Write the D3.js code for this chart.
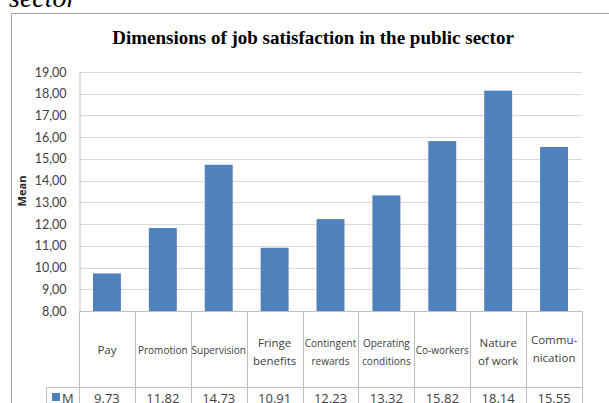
<!DOCTYPE html>
<html>
<head>
<meta charset="utf-8">
<script src="https://cdn.jsdelivr.net/npm/d3@7"></script>
<style>
  body { margin: 0; background: #fff; }
  svg { display: block; }
</style>
</head>
<body>
<div id="chart"></div>
<script>
// data
var categories = ["Pay", "Promotion", "Supervision", "Fringe benefits", "Contingent rewards",
                  "Operating conditions", "Co-workers", "Nature of work", "Commu-nication"];
// how each category label wraps in the table
var labelLines = [["Pay"], ["Promotion"], ["Supervision"], ["Fringe", "benefits"],
                  ["Contingent", "rewards"], ["Operating", "conditions"], ["Co-workers"],
                  ["Nature", "of work"], ["Commu-", "nication"]];
var smallLabels = ["Promotion", "Supervision", "Contingent rewards", "Operating conditions", "Co-workers"];
var means = [9.73, 11.82, 14.73, 10.91, 12.23, 13.32, 15.82, 18.14, 15.55];
var yTicks = [8, 9, 10, 11, 12, 13, 14, 15, 16, 17, 18, 19];
var seriesName = "M";

var width = 609, height = 403;
var plot = {left: 79, right: 582, top: 72, bottom: 311};
var tableMid = 387;

var svg = d3.select("#chart").append("svg")
  .attr("width", width).attr("height", height);

// caption fragment from the page above the chart
svg.append("text")
  .attr("x", 9).attr("y", 7)
  .style("font-family", "'Liberation Serif', serif")
  .style("font-style", "italic")
  .style("font-size", "28px")
  .text("sector");

// chart frame (runs off the picture on the right and bottom)
svg.append("path")
  .attr("d", "M11.5," + height + "V13.5H" + width)
  .attr("fill", "none").attr("stroke", "#a6a6a6");

svg.append("text")
  .attr("x", 313).attr("y", 44)
  .attr("text-anchor", "middle")
  .style("font-family", "'Liberation Serif', serif")
  .style("font-weight", "bold")
  .style("font-size", "19px")
  .text("Dimensions of job satisfaction in the public sector");

var x = d3.scaleBand().domain(categories).range([plot.left, plot.right])
  .paddingInner(0.5).paddingOuter(0.25);
var xCell = d3.scaleBand().domain(categories).range([plot.left, plot.right]).padding(0);
var y = d3.scaleLinear().domain([8, 19]).range([plot.bottom, plot.top]);

var fmt = d3.format(".2f");

// gridlines
svg.append("g").selectAll("line").data(yTicks.slice(1)).enter().append("line")
  .attr("x1", plot.left).attr("x2", plot.right)
  .attr("y1", function(d) { return Math.round(y(d)) + 0.5; })
  .attr("y2", function(d) { return Math.round(y(d)) + 0.5; })
  .attr("stroke", "#d9d9d9");

// y axis
var yAxis = svg.append("g")
  .attr("transform", "translate(" + (plot.left + 0.5) + ",0)")
  .call(d3.axisLeft(y).tickValues(yTicks).tickSize(0).tickPadding(13)
    .tickFormat(function(d) { return fmt(d).replace(".", ","); }));
yAxis.select(".domain").attr("stroke", "#bfbfbf");
yAxis.selectAll("text")
  .style("font-family", "Lato, sans-serif")
  .style("font-size", "12.5px")
  .attr("fill", "#404040");

svg.append("text")
  .attr("transform", "translate(26,191) rotate(-90)")
  .attr("text-anchor", "middle")
  .style("font-family", "'Open Sans', sans-serif")
  .style("font-weight", "bold")
  .style("font-size", "11px")
  .attr("fill", "#262626")
  .text("Mean");

// bars
svg.append("g").selectAll("rect").data(means).enter().append("rect")
  .attr("x", function(d, i) { return x(categories[i]); })
  .attr("width", x.bandwidth())
  .attr("y", function(d) { return y(d); })
  .attr("height", function(d) { return y(8) - y(d); })
  .attr("fill", "#4f81bd");

// data table
var table = svg.append("g").attr("stroke", "#bfbfbf").attr("fill", "none");
table.append("line")
  .attr("x1", plot.left).attr("x2", plot.right)
  .attr("y1", plot.bottom + 0.5).attr("y2", plot.bottom + 0.5);
table.append("line")
  .attr("x1", 46).attr("x2", plot.right)
  .attr("y1", tableMid + 0.5).attr("y2", tableMid + 0.5);
table.append("line")
  .attr("x1", 46.5).attr("x2", 46.5)
  .attr("y1", tableMid).attr("y2", height);
var bounds = categories.map(function(c) { return xCell(c); }).concat([plot.right]);
table.selectAll(".v").data(bounds).enter().append("line")
  .attr("x1", function(d) { return Math.round(d) + 0.5; })
  .attr("x2", function(d) { return Math.round(d) + 0.5; })
  .attr("y1", plot.bottom).attr("y2", height);

var labels = svg.append("g").selectAll("text").data(categories).enter().append("text")
  .attr("text-anchor", "middle")
  .style("font-family", "'Open Sans', sans-serif")
  .style("font-size", function(d) { return smallLabels.indexOf(d) >= 0 ? "10px" : "11.5px"; })
  .attr("fill", "#404040");
labels.each(function(d, i) {
  var lines = labelLines[i];
  var cx = xCell(d) + xCell.bandwidth() / 2;
  var t = d3.select(this);
  var y0 = lines.length === 1 ? 354 : 347;
  if (d === "Commu-nication") y0 = 344;
  lines.forEach(function(l, k) {
    t.append("tspan").attr("x", cx).attr("y", y0 + k * 18).text(l);
  });
});

// legend key + values row
svg.append("rect").attr("x", 52).attr("y", 393).attr("width", 8).attr("height", 8)
  .attr("fill", "#4f81bd");
svg.append("text").attr("x", 62).attr("y", 403)
  .style("font-family", "'Open Sans', sans-serif").style("font-size", "13px")
  .attr("fill", "#404040").text(seriesName);

svg.append("g").selectAll("text").data(means).enter().append("text")
  .attr("x", function(d, i) { return xCell(categories[i]) + xCell.bandwidth() / 2; })
  .attr("y", 403)
  .attr("text-anchor", "middle")
  .style("font-family", "'Open Sans', sans-serif")
  .style("font-size", "13px")
  .attr("fill", "#404040")
  .text(function(d) { return fmt(d); });
</script>
</body>
</html>
